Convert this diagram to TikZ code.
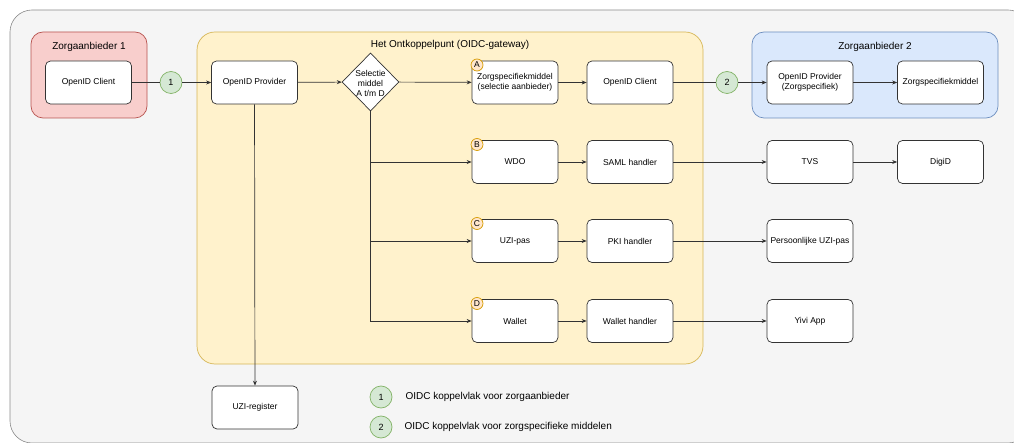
\documentclass[tikz,border=0pt]{standalone}
\usepackage{fontspec}
\setmainfont{Liberation Sans}
\usetikzlibrary{shapes.geometric,arrows.meta}

\definecolor{bgfill}{HTML}{F5F5F5}
\definecolor{bgline}{HTML}{8A8A8A}
\definecolor{redfill}{HTML}{F8CECC}
\definecolor{redline}{HTML}{B85450}
\definecolor{yelfill}{HTML}{FFF2CC}
\definecolor{yelline}{HTML}{D6B656}
\definecolor{bluefill}{HTML}{DAE8FC}
\definecolor{blueline}{HTML}{6C8EBF}
\definecolor{grnfill}{HTML}{D5E8D4}
\definecolor{grnline}{HTML}{82B366}
\definecolor{orgfill}{HTML}{FFE6CC}
\definecolor{orgline}{HTML}{D79B00}
\definecolor{boxline}{HTML}{333333}

\tikzset{
  >={Stealth[length=5pt,width=4pt]},
  box/.style={draw=boxline,fill=white,rectangle,rounded corners=5pt,line width=0.7pt,
    minimum width=86pt,minimum height=43pt,inner sep=1pt,align=center,
    font=\fontsize{8.5}{10}\selectfont},
  group/.style={rounded corners=12pt,line width=0.7pt},
  title/.style={font=\fontsize{10}{12}\selectfont},
  num/.style={circle,draw=grnline,fill=grnfill,line width=0.7pt,minimum size=22pt,inner sep=0pt,
    font=\fontsize{9}{10}\selectfont},
  badge/.style={circle,draw=orgline,fill=orgfill,line width=0.7pt,minimum size=12pt,inner sep=0pt,
    font=\fontsize{8.5}{10}\selectfont},
  link/.style={line width=0.7pt,draw=boxline}
}

\begin{document}
\begin{tikzpicture}[x=1pt,y=-1pt]
\useasboundingbox (0,0) rectangle (1014,443);
%achtergrond en groepen
\draw[bgline,fill=bgfill,rounded corners=22pt,line width=0.6pt] (10,10) rectangle (1030,443);
\draw[group,draw=redline,fill=redfill] (31,32) rectangle (147,118);
\draw[group,draw=yelline,fill=yelfill,rounded corners=18pt] (197,32) rectangle (703,364);
\draw[group,draw=blueline,fill=bluefill] (752,32) rectangle (998,118);
\node [title] (za1) at(89,47){Zorgaanbieder 1};
\node [title] (gw) at(450,45){Het Ontkoppelpunt (OIDC-gateway)};
\node [title] (za2) at(875,47){Zorgaanbieder 2};

%bovenste rij
\node [box] (oc1) at(88.5,82.5){OpenID Client};
\node [num] (n1) at(171,82.5){1};
\node [box] (op1) at(254.5,82.5){OpenID Provider};
\node [diamond,draw=boxline,fill=white,line width=0.7pt,minimum width=57pt,minimum height=58pt,inner sep=0pt] (sel) at(370.5,82){};
\node [align=center,font=\fontsize{8.5}{10}\selectfont] (seltxt) at(370.5,83){Selectie\\middel\\A t/m D};
\node [box] (zsm) at(515,82.5){Zorgspecifiekmiddel\\(selectie aanbieder)};
\node [box] (oc2) at(630,82.5){OpenID Client};
\node [num] (n2) at(727,82.5){2};
\node [box] (op2) at(810,82.5){OpenID Provider\\(Zorgspecifiek)};
\node [box] (zsm2) at(940.5,82.5){Zorgspecifiekmiddel};

%middelen B, C, D
\node [box] (wdo) at(515,162){WDO};
\node [box] (saml) at(630,162){SAML handler};
\node [box] (tvs) at(810,162){TVS};
\node [box] (digid) at(940.5,162){DigiD};

\node [box] (uzipas) at(515,241){UZI-pas};
\node [box] (pki) at(630,241){PKI handler};
\node [box] (puzi) at(810,241){Persoonlijke UZI-pas};

\node [box] (wallet) at(515,321){Wallet};
\node [box] (whandler) at(630,321){Wallet handler};
\node [box] (yivi) at(810,321){Yivi App};

\node [box] (uzireg) at(255,407.5){UZI-register};

%letters
\node [badge] (bA) at(477,65){A};
\node [badge] (bB) at(477,144.5){B};
\node [badge] (bC) at(477,223.5){C};
\node [badge] (bD) at(477,303.5){D};

%legenda
\node [num] (l1) at(381,397){1};
\node [title,anchor=west] (l1txt) at(402,397){OIDC koppelvlak voor zorgaanbieder};
\node [num] (l2) at(381,427){2};
\node [title,anchor=west] (l2txt) at(401,427){OIDC koppelvlak voor zorgspecifieke middelen};

%verbindingen
\draw[link](oc1) -- (n1);
\draw[link,->](n1) -- (op1);
\draw[link,->](op1) -- (sel);
\draw[link,->](sel) -- (zsm);
\draw[link,->](zsm) -- (oc2);
\draw[link](oc2) -- (n2);
\draw[link,->](n2) -- (op2);
\draw[link,->](op2) -- (zsm2);
\draw[link,->](sel.south) |- (wdo);
\draw[link,->](sel.south) |- (uzipas);
\draw[link,->](sel.south) |- (wallet);
\draw[link,->](wdo) -- (saml);
\draw[link,->](saml) -- (tvs);
\draw[link,->](tvs) -- (digid);
\draw[link,->](uzipas) -- (pki);
\draw[link,->](pki) -- (puzi);
\draw[link,->](wallet) -- (whandler);
\draw[link,->](whandler) -- (yivi);
\draw[link,->](op1) -- (uzireg);

\end{tikzpicture}
\end{document}
